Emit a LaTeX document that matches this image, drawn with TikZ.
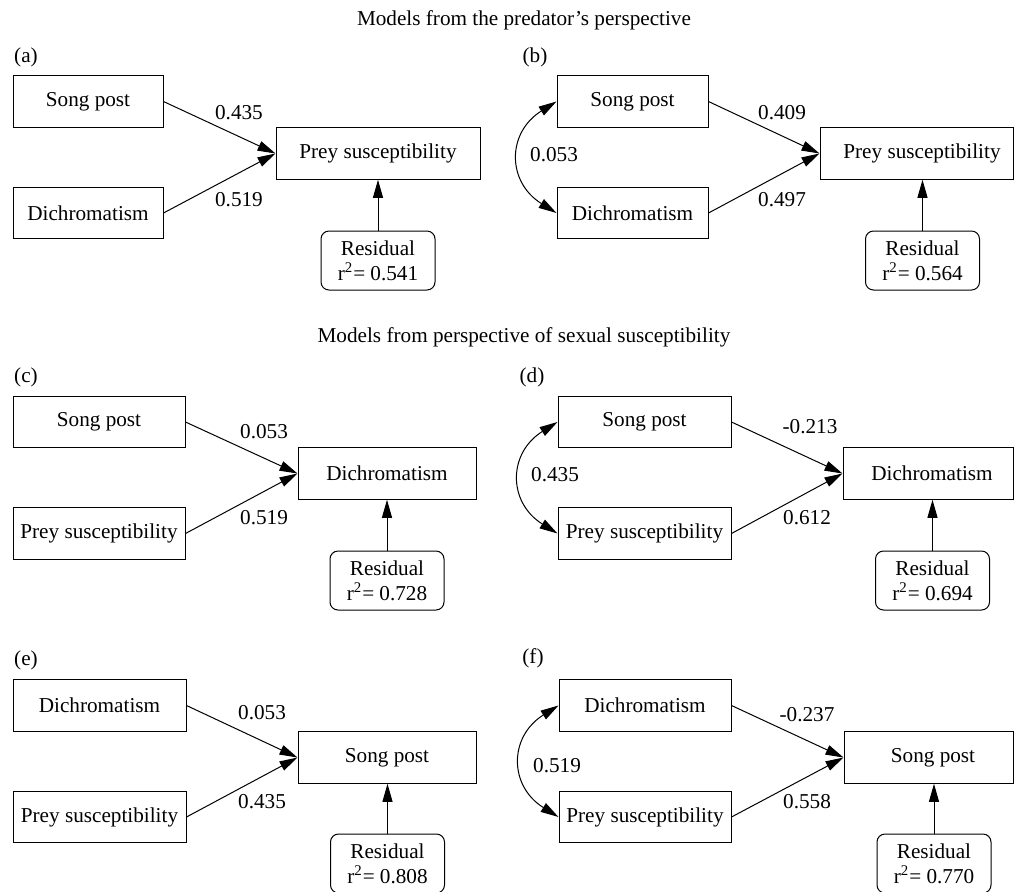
\documentclass[tikz,border=0pt]{standalone}
\usepackage{fontspec}
\setmainfont{Liberation Serif}
\usetikzlibrary{arrows.meta}
\begin{document}
\begin{tikzpicture}[x=0.5pt,y=-0.5pt,
  font=\fontsize{10.6pt}{12.5pt}\selectfont,
  box/.style={draw, line width=0.5pt, minimum height=25.75pt, inner sep=0pt},
  res/.style={draw, line width=0.5pt, rounded corners=4pt, align=center, minimum width=57pt, minimum height=29.5pt, inner sep=0pt},
  arr/.style={line width=0.5pt, -{Triangle[length=9pt,width=5pt]}},
  dbl/.style={line width=0.5pt, {Triangle[length=9pt,width=5pt]}-{Triangle[length=9pt,width=5pt]}, out=212, in=148, looseness=1.35},
  lbl/.style={inner sep=0pt}]
\useasboundingbox (0,0) rectangle (1014,891);
\clip (0,0) rectangle (1014,891);

% titles
\node[lbl] (t1) at (524,20) {Models from the predator's perspective};
\node[lbl] (t2) at (524,337) {Models from perspective of sexual susceptibility};

% ---------- (a)
\node[lbl] (la) at (26,57) {(a)};
\node[box, minimum width=75pt] (aS) at (88,101.5) {Song post};
\node[box, minimum width=75pt] (aD) at (88,213) {Dichromatism};
\node[box, minimum width=102pt] (aT) at (378,153.5) {Prey susceptibility};
\node[res] (aR) at (378,260.5) {Residual\\r\textsuperscript{2}= 0.541};
\draw[arr] (aS.east) -- (aT.west);
\draw[arr] (aD.east) -- (aT.west);
\draw[arr] (aR.north) -- (aR.north |- aT.south);
\node[lbl] (aL1) at (239,113) {0.435};
\node[lbl] (aL2) at (239,200) {0.519};

% ---------- (b)
\node[lbl] (lb) at (535,57) {(b)};
\node[box, minimum width=75.5pt] (bS) at (632.5,101.5) {Song post};
\node[box, minimum width=75.5pt] (bD) at (632.5,213) {Dichromatism};
\node[box, minimum width=96.5pt] (bT) at (916.5,153.5) {\hspace*{5.5pt}Prey susceptibility};
\node[res] (bR) at (922.5,260.5) {Residual\\r\textsuperscript{2}= 0.564};
\draw[arr] (bS.east) -- (bT.west);
\draw[arr] (bD.east) -- (bT.west);
\draw[arr] (bR.north) -- (bR.north |- bT.south);
\draw[dbl] (bS.west) to (bD.west);
\node[lbl] (bL1) at (782,113) {0.409};
\node[lbl] (bL2) at (782,200) {0.497};
\node[lbl] (bL3) at (554,155) {0.053};

% ---------- (c)
\node[lbl] (lc) at (26,377) {(c)};
\node[box, minimum width=86pt] (cS) at (99,422) {Song post};
\node[box, minimum width=86pt] (cP) at (99,533.5) {Prey susceptibility};
\node[box, minimum width=89pt] (cT) at (387,473.5) {Dichromatism};
\node[res] (cR) at (387,580.5) {Residual\\r\textsuperscript{2}= 0.728};
\draw[arr] (cS.east) -- (cT.west);
\draw[arr] (cP.east) -- (cT.west);
\draw[arr] (cR.north) -- (cR.north |- cT.south);
\node[lbl] (cL1) at (264,432) {0.053};
\node[lbl] (cL2) at (264,518) {0.519};

% ---------- (d)
\node[lbl] (ld) at (532,377) {(d)};
\node[box, minimum width=86.5pt] (dS) at (644.5,422) {Song post};
\node[box, minimum width=86.5pt] (dP) at (644.5,533.5) {Prey susceptibility};
\node[box, minimum width=85pt] (dT) at (928,473.5) {\hspace*{4pt}Dichromatism};
\node[res] (dR) at (932.5,580.5) {Residual\\r\textsuperscript{2}= 0.694};
\draw[arr] (dS.east) -- (dT.west);
\draw[arr] (dP.east) -- (dT.west);
\draw[arr] (dR.north) -- (dR.north |- dT.south);
\draw[dbl] (dS.west) to (dP.west);
\node[lbl] (dL1) at (810,427) {-0.213};
\node[lbl] (dL2) at (807,518) {0.612};
\node[lbl] (dL3) at (555,475) {0.435};

% ---------- (e)
\node[lbl] (le) at (26,660) {(e)};
\node[box, minimum width=86.5pt] (eD) at (99.5,705.5) {Dichromatism};
\node[box, minimum width=86.5pt] (eP) at (99.5,817) {Prey susceptibility};
\node[box, minimum width=89pt] (eT) at (387,757.5) {Song post};
\node[res] (eR) at (387.5,863.5) {Residual\\r\textsuperscript{2}= 0.808};
\draw[arr] (eD.east) -- (eT.west);
\draw[arr] (eP.east) -- (eT.west);
\draw[arr] (eR.north) -- (eR.north |- eT.south);
\node[lbl] (eL1) at (262,713) {0.053};
\node[lbl] (eL2) at (262,802) {0.435};

% ---------- (f)
\node[lbl] (lf) at (533,658) {(f)};
\node[box, minimum width=86pt] (fD) at (645,705.5) {Dichromatism};
\node[box, minimum width=86pt] (fP) at (645,817) {Prey susceptibility};
\node[box, minimum width=84.5pt] (fT) at (928.5,757.5) {\hspace*{4.5pt}Song post};
\node[res] (fR) at (934,863.5) {Residual\\r\textsuperscript{2}= 0.770};
\draw[arr] (fD.east) -- (fT.west);
\draw[arr] (fP.east) -- (fT.west);
\draw[arr] (fR.north) -- (fR.north |- fT.south);
\draw[dbl] (fD.west) to (fP.west);
\node[lbl] (fL1) at (807,715) {-0.237};
\node[lbl] (fL2) at (807,802) {0.558};
\node[lbl] (fL3) at (557,766) {0.519};
\end{tikzpicture}
\end{document}
